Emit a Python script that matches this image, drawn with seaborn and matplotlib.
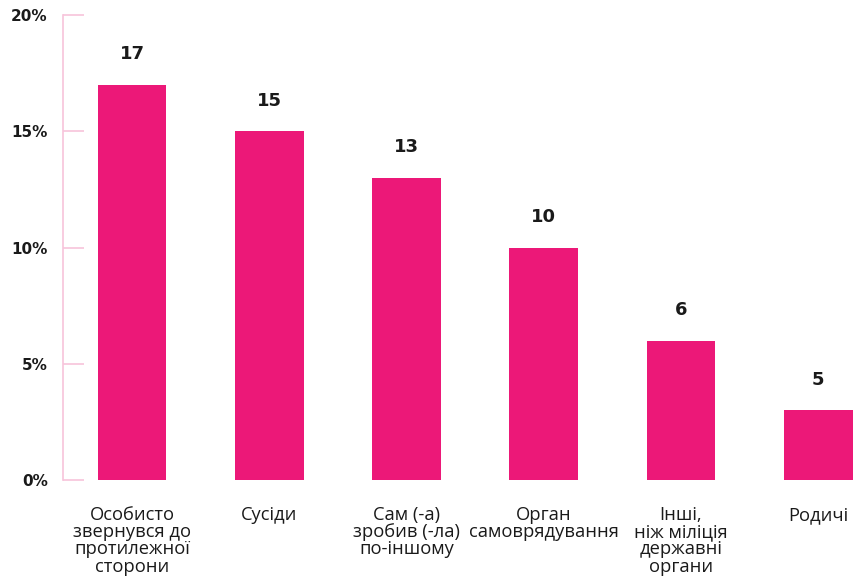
import matplotlib
matplotlib.use("Agg")
import matplotlib.pyplot as plt
import pandas as pd
import seaborn as sns

# Data
categories = [
    "Особисто\nзвернувся до\nпротилежної\nсторони",
    "Сусіди",
    "Сам (-а)\nзробив (-ла)\nпо-іншому",
    "Орган\nсамоврядування",
    "Інші,\nніж міліція\nдержавні\nоргани",
    "Родичі",
]
values = [17, 15, 13, 10, 6, 3]
value_labels = ["17", "15", "13", "10", "6", "5"]
y_ticks = [0, 5, 10, 15, 20]

bar_color = "#ec1878"
axis_color = "#f7c4da"
text_color = "#1a1a1a"

df = pd.DataFrame({"category": categories, "value": values})

sns.set_style("white")
plt.rcParams["font.family"] = ["DejaVu Sans"]

fig = plt.figure(figsize=(8.58, 5.77), dpi=100)
ax = fig.add_axes([0.0734, 0.168, 0.9266, 0.806])

sns.barplot(data=df, x="category", y="value", color=bar_color,
            width=0.5, saturation=1, linewidth=0, ax=ax)

# value labels above bars
for i, (v, lab) in enumerate(zip(values, value_labels)):
    ax.annotate(lab, xy=(i, v), xytext=(0, 22), textcoords="offset points",
                ha="center", va="center", fontsize=13, fontweight="bold",
                color=text_color)

ax.set_ylim(0, 20)
ax.set_xlim(-0.503, 5.29)
ax.set_yticks(y_ticks)
ax.set_yticklabels([f"{t}%" for t in y_ticks])
ax.set_xlabel("")
ax.set_ylabel("")

for s in ["top", "right", "bottom"]:
    ax.spines[s].set_visible(False)
ax.spines["left"].set_color(axis_color)
ax.spines["left"].set_linewidth(1.2)

ax.tick_params(axis="y", left=True, direction="in", length=15, width=1.2,
               color=axis_color, pad=11, labelsize=11, labelcolor=text_color)
for lbl in ax.get_yticklabels():
    lbl.set_fontweight("bold")

ax.tick_params(axis="x", length=0, pad=19, labelcolor=text_color)
for lbl in ax.get_xticklabels():
    lbl.set_fontfamily(["Open Sans", "DejaVu Sans"])
    lbl.set_fontsize(13.2)
    lbl.set_linespacing(0.93)

fig.savefig("out.png", dpi=100)
